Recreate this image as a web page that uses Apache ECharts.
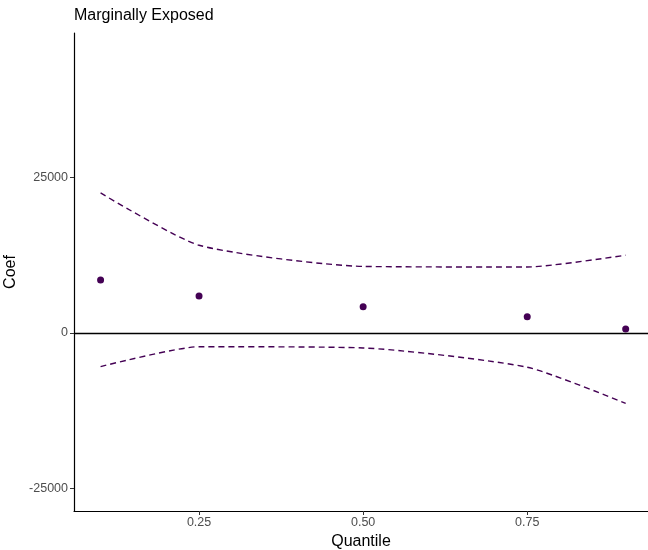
<!DOCTYPE html>
<html>
<head>
<meta charset="utf-8">
<script src="https://cdn.jsdelivr.net/npm/echarts@6/dist/echarts.min.js"></script>
<style>
  html, body { margin: 0; padding: 0; background: #fff; }
  #chart { width: 648px; height: 550px; }
</style>
</head>
<body>
<div id="chart"></div>
<script>
// data
var quantiles = [0.1, 0.25, 0.5, 0.75, 0.9];
var coef = [8500, 5950, 4200, 2600, 650];
var upper = [22500, 14100, 10700, 10600, 12500];
var lower = [-5400, -2200, -2400, -5500, -11300];
var xTicks = [0.25, 0.5, 0.75];
var yTicks = [-25000, 0, 25000];

function pairs(ys) {
  return quantiles.map(function (q, i) {
    return [q, ys[i]];
  });
}

var purple = "#440154";
var chart = echarts.init(document.getElementById("chart"));

chart.setOption({
  animation: false,
  textStyle: { fontFamily: "Liberation Sans, Arial, sans-serif" },
  title: {
    text: "Marginally Exposed",
    left: 74,
    top: 8,
    padding: 0,
    textStyle: { fontSize: 16, fontWeight: "normal", color: "#000" },
  },
  grid: { left: 74, right: 0, top: 33, bottom: 39, containLabel: false, outerBoundsMode: "none" },
  xAxis: {
    type: "value",
    min: 0.0595,
    max: 0.934,
    name: "Quantile",
    nameLocation: "middle",
    nameGap: 23,
    nameTextStyle: { fontSize: 16, color: "#000" },
    axisLine: { show: true, onZero: false, lineStyle: { color: "#000", width: 1.2 } },
    axisTick: { show: true, length: 4, customValues: xTicks, lineStyle: { color: "#333" } },
    axisLabel: {
      fontSize: 12.5,
      color: "#4d4d4d",
      margin: 5,
      customValues: xTicks,
      formatter: function (v) { return v.toFixed(2); },
    },
    splitLine: { show: false },
  },
  yAxis: {
    type: "value",
    min: -28600,
    max: 48200,
    name: "Coef",
    nameLocation: "middle",
    nameGap: 48,
    nameTextStyle: { fontSize: 16, color: "#000" },
    axisLine: { show: true, onZero: false, lineStyle: { color: "#000", width: 1.2 } },
    axisTick: { show: true, length: 4, customValues: yTicks, lineStyle: { color: "#333" } },
    axisLabel: {
      fontSize: 12.5,
      color: "#4d4d4d",
      margin: 6,
      customValues: yTicks,
      formatter: function (v) { return String(v); },
    },
    splitLine: { show: false },
  },
  series: [
    {
      type: "line",
      data: pairs(upper),
      symbol: "none",
      smooth: 0.2,
      lineStyle: { color: purple, width: 1.4, type: [6, 4] },
      markLine: {
        silent: true,
        symbol: "none",
        label: { show: false },
        lineStyle: { color: "#000", width: 1.3, type: "solid" },
        data: [{ yAxis: 0 }],
      },
    },
    {
      type: "line",
      data: pairs(lower),
      symbol: "none",
      smooth: 0.2,
      lineStyle: { color: purple, width: 1.4, type: [6, 4] },
    },
    {
      type: "scatter",
      data: pairs(coef),
      symbolSize: 7,
      itemStyle: { color: purple, opacity: 1 },
    },
  ],
});
</script>
</body>
</html>
